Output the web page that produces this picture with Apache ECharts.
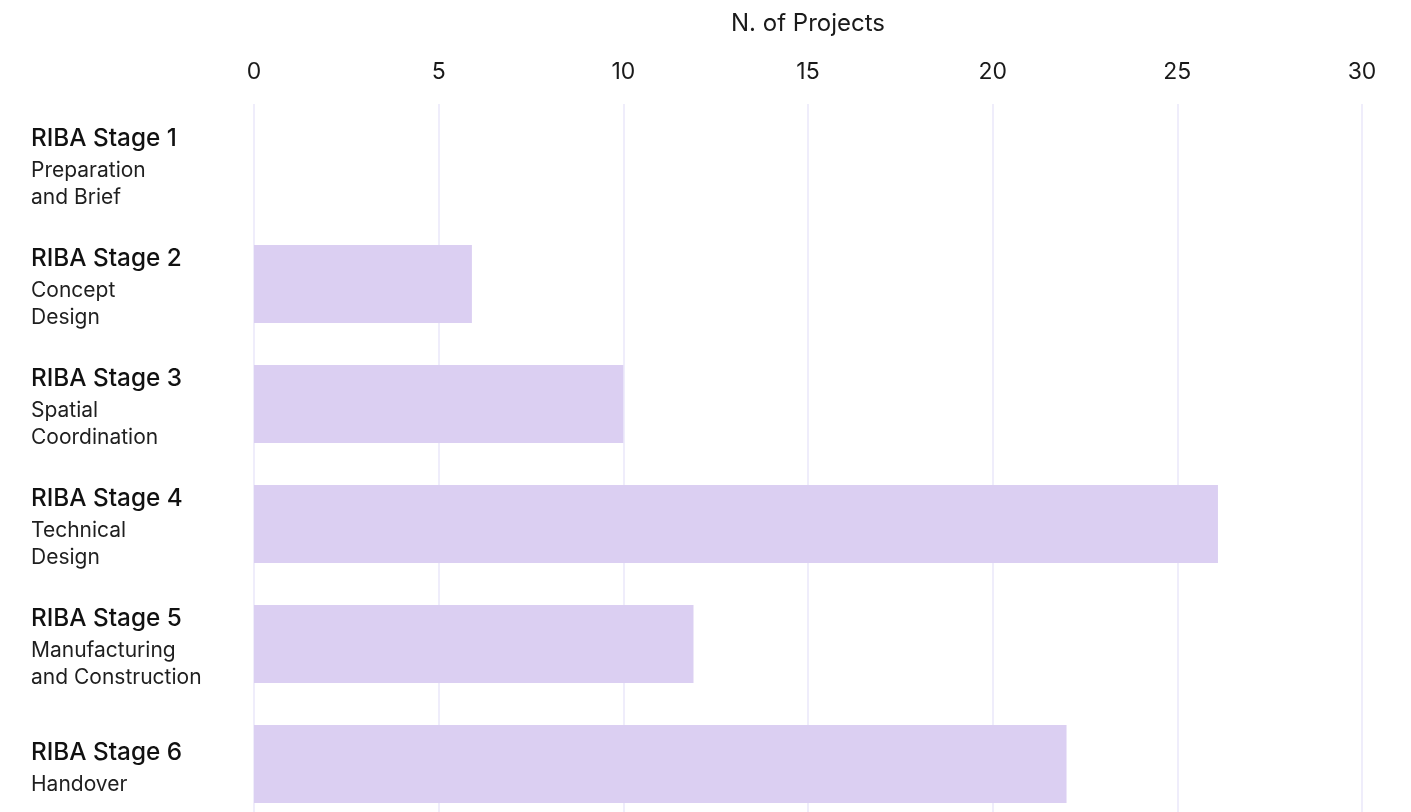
<!DOCTYPE html>
<html>
<head>
    <meta charset="utf-8">
    <title>RIBA Stages</title>
    <style>
        body{
            margin: 0;
            padding: 0;
            background: #fff;
        }
        #container{
            width: 1411px;
            height: 812px;
        }
    </style>
</head>
<body>
    <div id="container"></div>
    <script src="https://cdn.jsdelivr.net/npm/echarts@6/dist/echarts.min.js"></script>
    <script type="text/javascript">
    // 数据
    var stages = ['RIBA Stage 1', 'RIBA Stage 2', 'RIBA Stage 3', 'RIBA Stage 4', 'RIBA Stage 5', 'RIBA Stage 6'];
    var stageNames = [
        ['Preparation', 'and Brief'],
        ['Concept', 'Design'],
        ['Spatial', 'Coordination'],
        ['Technical', 'Design'],
        ['Manufacturing', 'and Construction'],
        ['Handover']
    ];
    var projects = [0, 5.9, 10, 26.1, 11.9, 22];
    var xMin = 0, xMax = 30, xStep = 5;
    var xName = 'N. of Projects';

    var font = 'Inter, "Noto Sans", sans-serif';

    var myChart = echarts.init(document.getElementById('container'));

    var option = {
        backgroundColor: '#ffffff',
        animation: false,
        grid: {
            left: 254,
            right: 49,
            top: 104,
            height: 720,
            outerBoundsMode: 'none'
        },
        xAxis: {
            type: 'value',
            position: 'top',
            min: xMin,
            max: xMax,
            interval: xStep,
            name: xName,
            nameLocation: 'middle',
            nameGap: 68,
            nameTextStyle: {
                fontFamily: font,
                fontSize: 24,
                color: '#1a1a1a'
            },
            axisLine: { show: false },
            axisTick: { show: false },
            axisLabel: {
                margin: 20,
                fontFamily: font,
                fontSize: 23,
                color: '#1a1a1a'
            },
            splitLine: {
                lineStyle: { color: '#efedfb', width: 2 }
            }
        },
        yAxis: {
            type: 'category',
            inverse: true,
            data: stages,
            axisLine: { show: false },
            axisTick: { show: false },
            splitLine: { show: false },
            axisLabel: {
                align: 'left',
                margin: 223,
                padding: [4, 0, 0, 0],
                formatter: function (value, idx) {
                    var s = '{t|' + value + '}';
                    stageNames[idx].forEach(function (line) {
                        s += '\n{s|' + line + '}';
                    });
                    return s;
                },
                rich: {
                    t: {
                        fontFamily: font,
                        fontSize: 24.3,
                        fontWeight: 500,
                        color: '#111111',
                        lineHeight: 37
                    },
                    s: {
                        fontFamily: font,
                        fontSize: 21,
                        color: '#1f1f1f',
                        lineHeight: 27
                    }
                }
            }
        },
        series: [{
            type: 'bar',
            data: projects,
            barWidth: 78,
            itemStyle: { color: '#dbcff2' }
        }]
    };

    myChart.setOption(option);
    </script>
</body>
</html>
